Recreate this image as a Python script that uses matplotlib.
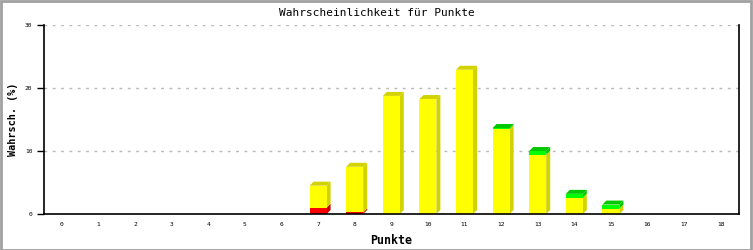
import numpy as np
import matplotlib
matplotlib.use('Agg')
from matplotlib import pyplot as plt
from matplotlib.patches import Polygon

# --- data (percent) ---
punkte = list(range(19))
rot = [0, 0, 0, 0, 0, 0, 0, 1.0, 0.25, 0, 0, 0, 0, 0, 0, 0, 0, 0, 0]
gelb = [0, 0, 0, 0, 0, 0, 0, 3.5, 7.25, 18.75, 18.25, 22.9, 13.5, 9.4, 2.6, 0.85, 0, 0, 0]
gruen = [0, 0, 0, 0, 0, 0, 0, 0, 0, 0, 0, 0, 0.15, 0.6, 0.6, 0.65, 0, 0, 0]
y_ticks = [0, 10, 20, 30]

# colours: front face / darker face for side and top
series = [
    (rot, '#ff0000', '#c80000'),
    (gelb, '#ffff00', '#d2d200'),
    (gruen, '#00ff00', '#00c800'),
]

mono = 'DejaVu Sans Mono'
fig = plt.figure(figsize=(7.53, 2.5), dpi=100)
ax = fig.add_axes([43.5 / 753, 36 / 250, 695.5 / 753, 189 / 250])

bar_w = 0.465
dx = 0.11   # depth of the 3d effect in data units
dy = 0.63

x = np.array(punkte, dtype=float)
bottom = np.zeros(len(punkte))
top_col = [None] * len(punkte)
for vals, front, dark in series:
    vals = np.array(vals)
    ax.bar(x, vals, bar_w, bottom=bottom, color=front, linewidth=0, zorder=3)
    # side faces for each segment
    for i in range(len(x)):
        if vals[i] <= 0:
            continue
        xr = x[i] + bar_w / 2
        b = bottom[i]
        t = b + vals[i]
        side = Polygon([(xr, b), (xr + dx, b + dy), (xr + dx, t + dy), (xr, t)],
                       closed=True, facecolor=dark, edgecolor='none', zorder=2)
        ax.add_patch(side)
        top_col[i] = dark
    bottom = bottom + vals

# top faces in the colour of the top segment
for i in range(len(x)):
    if top_col[i] is None:
        continue
    xl = x[i] - bar_w / 2
    xr = x[i] + bar_w / 2
    t = bottom[i]
    top = Polygon([(xl, t), (xr, t), (xr + dx, t + dy), (xl + dx, t + dy)],
                  closed=True, facecolor=top_col[i], edgecolor='none', zorder=2)
    ax.add_patch(top)

ax.set_xlim(-0.5, 18.5)
ax.set_ylim(0, 30)
ax.set_xticks(punkte)
ax.set_xticklabels([str(p) for p in punkte], fontsize=4.5, family=mono)
ax.set_yticks(y_ticks)
ax.set_yticklabels([str(t) for t in y_ticks], fontsize=4.5, family=mono)
ax.tick_params(axis='x', length=0, pad=6)
ax.tick_params(axis='y', length=5, width=1, pad=3, direction='out')

for t in y_ticks[1:]:
    ax.axhline(t, color='#b8b8b8', linestyle=(0, (2, 4)), linewidth=1, zorder=1)

ax.spines['top'].set_visible(False)
for s in ['left', 'right', 'bottom']:
    ax.spines[s].set_linewidth(1.2)
    ax.spines[s].set_color('black')
ax.spines['bottom'].set_zorder(5)

ax.set_xlabel('Punkte', fontsize=8.4, family=mono, fontweight='bold', labelpad=5)
ax.set_ylabel('Wahrsch. (%)', fontsize=7.3, family=mono, fontweight='bold', labelpad=5)
fig.text(0.5, 1 - 13 / 250, 'Wahrscheinlichkeit für Punkte', ha='center', va='center',
         fontsize=8, family=mono)

# grey outer frame
fig.patches.append(plt.Rectangle((0.001, 0.002), 0.997, 0.996, transform=fig.transFigure,
                                 fill=False, edgecolor='#a0a0a0', linewidth=2))

fig.savefig('out.png', dpi=100)
